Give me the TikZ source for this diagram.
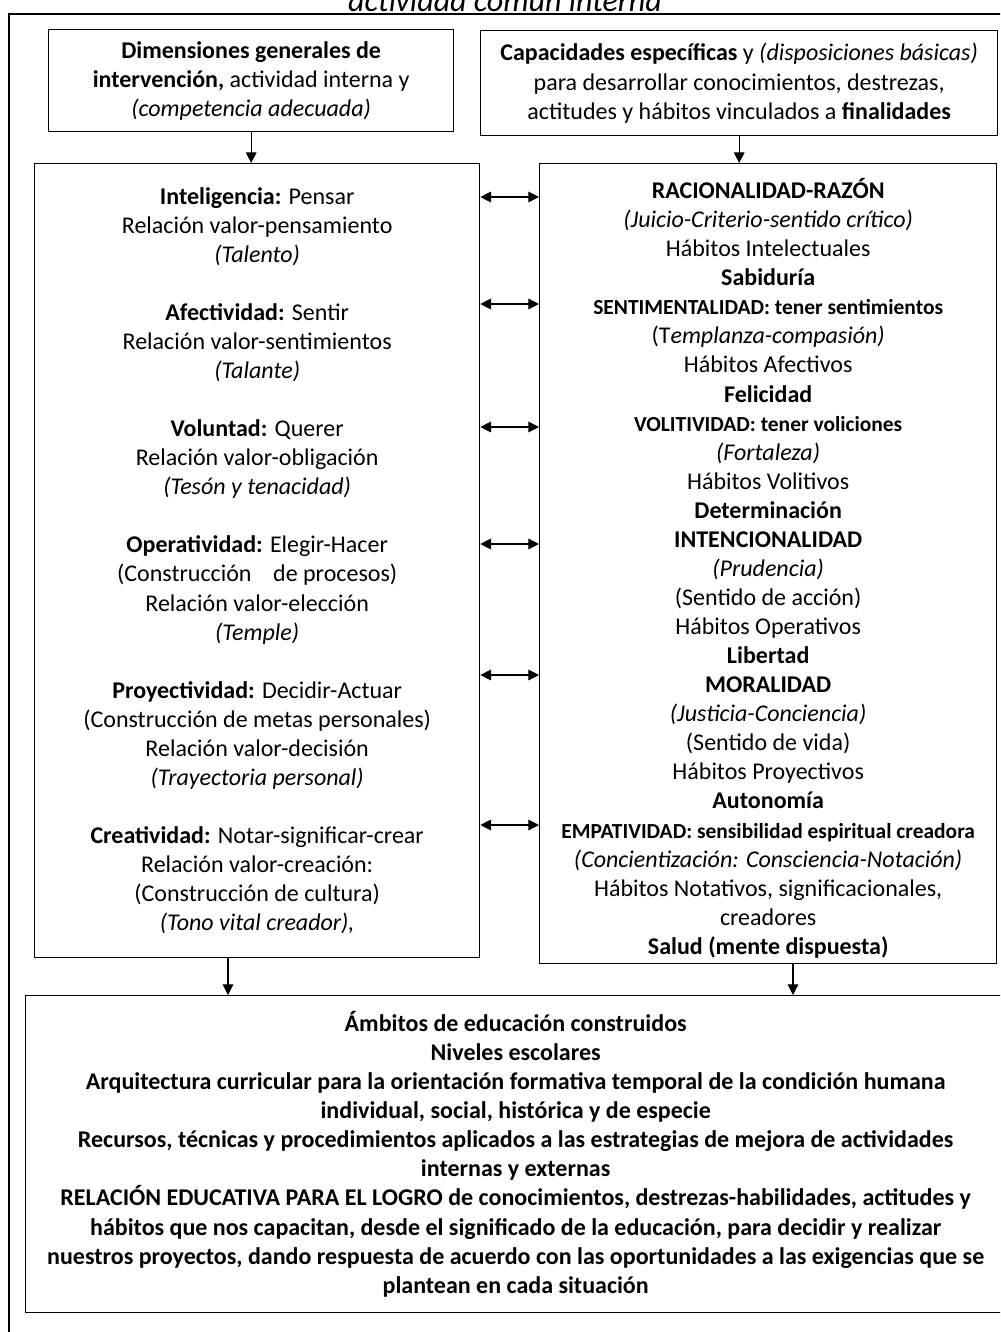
\documentclass[tikz,border=0pt]{standalone}
\usepackage{fontspec}
\setmainfont{Carlito}
\usepackage{tikz}
\usetikzlibrary{arrows.meta,calc}
\tikzstyle{marco}=[draw,line width=1pt,align=center,inner sep=0pt,anchor=north west,font=\fontsize{18}{21.8}\selectfont]
\tikzstyle{flecha}=[line width=0.8pt,>={Triangle[length=8pt,width=8pt]}]
\newcommand{\chico}{\fontsize{16.1}{21.8}\selectfont}
\newcommand{\hueco}{\\[21.8pt]}

\begin{document}
\begin{tikzpicture}[x=0.75pt,y=-0.75pt]
\useasboundingbox (0,0) rectangle (1000,1332);
\clip (0,0) rectangle (1000,1332);
% title, cut by the page edge
\draw (505,11) node [anchor=base,font=\fontsize{24}{28}\selectfont\itshape] (titulo) {actividad común interna};
% outer frame
\draw[line width=1.2pt] (1010,14) -- (9,14) -- (9,1345);
% top boxes
\draw (48, 29) node [marco,minimum width=303.75pt,minimum height=76.5pt] (general)
  {\textbf{Dimensiones generales de}\\
   \textbf{intervención,} actividad interna y\\
   \textit{(competencia adecuada)}};
\draw (480, 30) node [marco,minimum width=387.75pt,minimum height=78.75pt] (especifica)
  {\textbf{Capacidades específicas} y \textit{(disposiciones básicas)}\\
   para desarrollar conocimientos, destrezas,\\
   actitudes y hábitos vinculados a \textbf{finalidades}};
% dimensions
\draw (34, 163) node [marco,minimum width=333.75pt,minimum height=595.5pt] (dimension)
  {\textbf{Inteligencia:} Pensar\\
   Relación valor-pensamiento\\
   \textit{(Talento)}\hueco
   \textbf{Afectividad:} Sentir\\
   Relación valor-sentimientos\\
   \textit{(Talante)}\hueco
   \textbf{Voluntad:} Querer\\
   Relación valor-obligación\\
   \textit{(Tesón y tenacidad)}\hueco
   \textbf{Operatividad:} Elegir-Hacer\\
   (Construcción\hspace{0.9em}de procesos)\\
   Relación valor-elección\\
   \textit{(Temple)}\hueco
   \textbf{Proyectividad:} Decidir-Actuar\\
   (Construcción de metas personales)\\
   Relación valor-decisión\\
   \textit{(Trayectoria personal)}\hueco
   \textbf{Creatividad:} Notar-significar-crear\\
   Relación valor-creación:\\
   (Construcción de cultura)\\
   \textit{(Tono vital creador),}};
% capacities
\draw (539, 163) node [marco,minimum width=342.75pt,minimum height=600pt] (capacidad)
  {\rule{0pt}{22pt}\textbf{RACIONALIDAD-RAZÓN}\\
   \textit{(Juicio-Criterio-sentido crítico)}\\
   Hábitos Intelectuales\\
   \textbf{Sabiduría}\\
   {\chico\textbf{SENTIMENTALIDAD: tener sentimientos}}\\
   (T\textit{emplanza-compasión)}\\
   Hábitos Afectivos\\
   \textbf{Felicidad}\\
   {\chico\textbf{VOLITIVIDAD: tener voliciones}}\\
   \textit{(Fortaleza)}\\
   Hábitos Volitivos\\
   \textbf{Determinación}\\
   \textbf{INTENCIONALIDAD}\\
   \textit{(Prudencia)}\\
   (Sentido de acción)\\
   Hábitos Operativos\\
   \textbf{Libertad}\\
   \textbf{MORALIDAD}\\
   \textit{(Justicia-Conciencia)}\\
   (Sentido de vida)\\
   Hábitos Proyectivos\\
   \textbf{Autonomía}\\
   {\chico\textbf{EMPATIVIDAD: sensibilidad espiritual creadora}}\\
   \textit{(Concientización: Consciencia-Notación)}\\
   Hábitos Notativos, significacionales,\\
   creadores\\
   \textbf{Salud (mente dispuesta)}};
% bottom box
\draw (25, 995) node [marco,minimum width=735pt,minimum height=237.75pt,font=\fontsize{18}{21.8}\selectfont\bfseries] (ambitos)
  {Ámbitos de educación construidos\\
   Niveles escolares\\
   Arquitectura curricular para la orientación formativa temporal de la condición humana\\
   individual, social, histórica y de especie\\
   Recursos, técnicas y procedimientos aplicados a las estrategias de mejora de actividades\\
   internas y externas\\
   RELACIÓN EDUCATIVA PARA EL LOGRO de conocimientos, destrezas-habilidades, actitudes y\\
   hábitos que nos capacitan, desde el significado de la educación, para decidir y realizar\\
   nuestros proyectos, dando respuesta de acuerdo con las oportunidades a las exigencias que se\\
   plantean en cada situación};
% arrows
\coordinate (bajaizq) at (228, 0);
\coordinate (bajader) at (793, 0);
\draw[flecha,->] (general.south) -- (general.south |- dimension.north);
\draw[flecha,->] (especifica.south) -- (especifica.south |- capacidad.north);
\draw[flecha,->] (dimension.south -| bajaizq) -- (ambitos.north -| bajaizq);
\draw[flecha,->] (capacidad.south -| bajader) -- (ambitos.north -| bajader);
\foreach \y in {197,304,427,544,675,825}
  \draw[flecha,<->] (dimension.east |- 0,\y) -- (capacidad.west |- 0,\y);
\end{tikzpicture}
\end{document}
